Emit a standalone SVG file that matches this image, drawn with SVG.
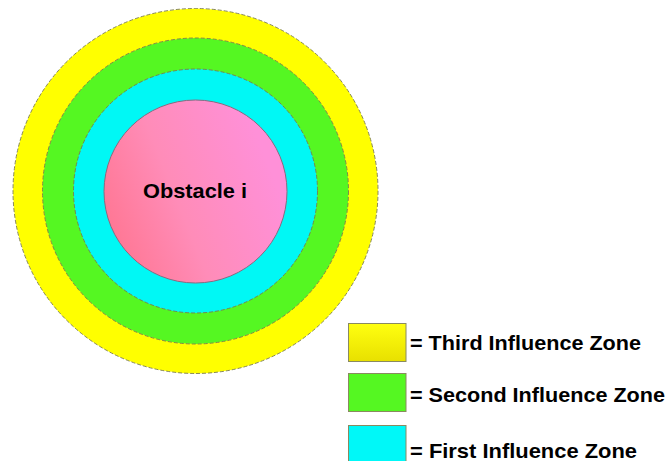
<svg xmlns="http://www.w3.org/2000/svg" width="671" height="461" viewBox="0 0 671 461">
<defs>
<linearGradient id="pink" x1="0" y1="1" x2="1" y2="0.6">
<stop offset="0" stop-color="#FF7088"/>
<stop offset="0.5" stop-color="#FF8CB8"/>
<stop offset="1" stop-color="#FF90D8"/>
</linearGradient>
<linearGradient id="ylw" x1="0" y1="0" x2="0" y2="1">
<stop offset="0" stop-color="#FFFF10"/>
<stop offset="1" stop-color="#E8E000"/>
</linearGradient>
</defs>
<style>
.zone{stroke:#7A7A50;stroke-width:0.9;stroke-dasharray:4 2}
.lbl{font-family:"Liberation Sans",Arial,sans-serif;font-weight:bold;font-size:21px;fill:#000}
.box{stroke:#8A8A60;stroke-width:1}
</style>
<rect width="671" height="461" fill="#FFFFFF"/>
<g id="third-zone"><circle cx="195.5" cy="191" r="182.5" fill="#FFFF00" class="zone"/></g>
<g id="second-zone"><circle cx="195.5" cy="191" r="153" fill="#55F722" class="zone"/></g>
<g id="first-zone"><circle cx="195.5" cy="191" r="122" fill="#00F8F5" class="zone"/></g>
<g id="obstacle">
<circle cx="195.5" cy="191.5" r="91.5" fill="url(#pink)" stroke="#8A6A80" stroke-width="1"/>
<text class="lbl" x="195" y="198" text-anchor="middle" textLength="104" lengthAdjust="spacingAndGlyphs">Obstacle i</text>
</g>
<g id="legend-third">
<rect class="box" x="348.5" y="323.5" width="57.5" height="38" fill="url(#ylw)"/>
<text class="lbl" x="410" y="350" textLength="231" lengthAdjust="spacingAndGlyphs">= Third Influence Zone</text>
</g>
<g id="legend-second">
<rect class="box" x="348.5" y="373.5" width="57.5" height="38" fill="#55F722"/>
<text class="lbl" x="410" y="401.5" textLength="255" lengthAdjust="spacingAndGlyphs">= Second Influence Zone</text>
</g>
<g id="legend-first">
<rect class="box" x="348.5" y="425.5" width="57.5" height="38" fill="#00F8F8"/>
<text class="lbl" x="410" y="458" textLength="227" lengthAdjust="spacingAndGlyphs">= First Influence Zone</text>
</g>
</svg>
